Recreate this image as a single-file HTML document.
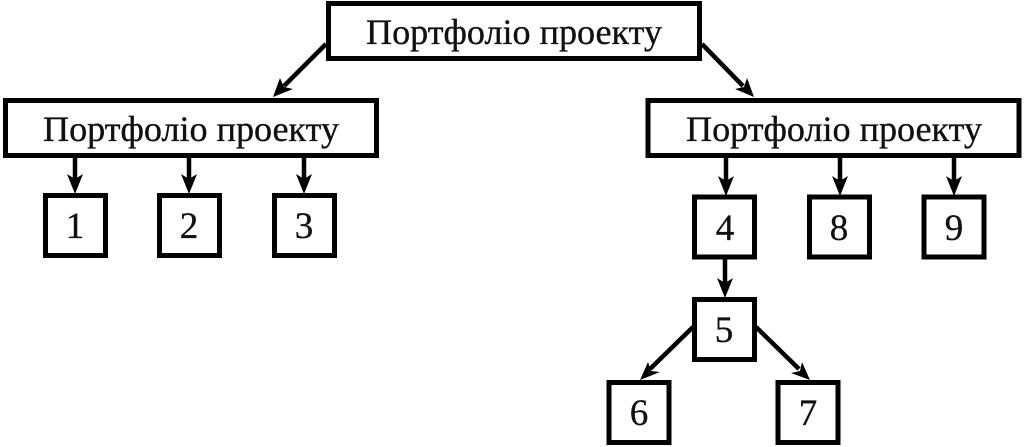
<!DOCTYPE html>
<html><head><meta charset="utf-8"><style>
html,body{margin:0;padding:0;background:#fff;width:1024px;height:447px;overflow:hidden}
svg{display:block}
text{font-family:"Liberation Serif",serif;fill:#111;stroke:#111;stroke-width:.35;text-anchor:middle}
.b{font-size:36px}
.n{font-size:37px}
rect{fill:#fff;stroke:#000;stroke-width:5}
line{stroke:#000;stroke-width:4.5}
polygon{fill:#000}
</style></head><body>
<svg width="1024" height="447" viewBox="0 0 1024 447" xmlns="http://www.w3.org/2000/svg">
<rect x="328.5" y="3.5" width="371" height="55"/>
<rect x="5.5" y="100.5" width="371" height="55"/>
<rect x="648" y="100.5" width="371" height="55"/>
<rect x="45.5" y="195.5" width="60" height="60"/>
<rect x="159.5" y="195.5" width="60" height="60"/>
<rect x="274.5" y="195.5" width="60" height="60"/>
<rect x="694.5" y="197" width="60" height="60"/>
<rect x="809.5" y="197" width="60" height="60"/>
<rect x="924" y="197" width="60" height="60"/>
<rect x="694.5" y="299.5" width="60" height="60"/>
<rect x="609" y="382.5" width="60" height="60"/>
<rect x="778" y="382.5" width="60" height="60"/>

<line x1="326" y1="44" x2="284" y2="86" stroke-width="4"/><polygon points="273,97 280,78 284,87 293,89"/>
<line x1="702" y1="44" x2="743" y2="86" stroke-width="4"/><polygon points="754,97 735,89 744,87 747,78"/>

<line x1="75" y1="157" x2="75" y2="182"/><polygon points="75,194 67,174 75,179 83,174"/>
<line x1="189" y1="157" x2="189" y2="182"/><polygon points="189,194 181,174 189,179 197,174"/>
<line x1="304" y1="157" x2="304" y2="182"/><polygon points="304,194 296,174 304,179 312,174"/>
<line x1="726" y1="157" x2="726" y2="184"/><polygon points="726,196 718,176 726,181 734,176"/>
<line x1="840" y1="157" x2="840" y2="184"/><polygon points="840,196 832,176 840,181 848,176"/>
<line x1="954" y1="157" x2="954" y2="184"/><polygon points="954,196 946,176 954,181 962,176"/>
<line x1="725" y1="258" x2="725" y2="286"/><polygon points="725,298 717,278 725,283 733,278"/>

<line x1="693" y1="327" x2="650" y2="369" stroke-width="4"/><polygon points="640,380 648,362 651,371 660,372"/>
<line x1="756" y1="327" x2="799" y2="369" stroke-width="4"/><polygon points="810,380 791,373 800,371 802,362"/>

<text class="b" x="514" y="44" textLength="296" lengthAdjust="spacingAndGlyphs">Портфоліо проекту</text>
<text class="b" x="191" y="141" textLength="296" lengthAdjust="spacingAndGlyphs">Портфоліо проекту</text>
<text class="b" x="834" y="141" textLength="296" lengthAdjust="spacingAndGlyphs">Портфоліо проекту</text>
<text class="n" x="75" y="238">1</text>
<text class="n" x="189" y="238">2</text>
<text class="n" x="304" y="238">3</text>
<text class="n" x="725" y="240">4</text>
<text class="n" x="839" y="240">8</text>
<text class="n" x="954" y="240">9</text>
<text class="n" x="724" y="342">5</text>
<text class="n" x="639" y="425">6</text>
<text class="n" x="808" y="425">7</text>
</svg>
</body></html>
